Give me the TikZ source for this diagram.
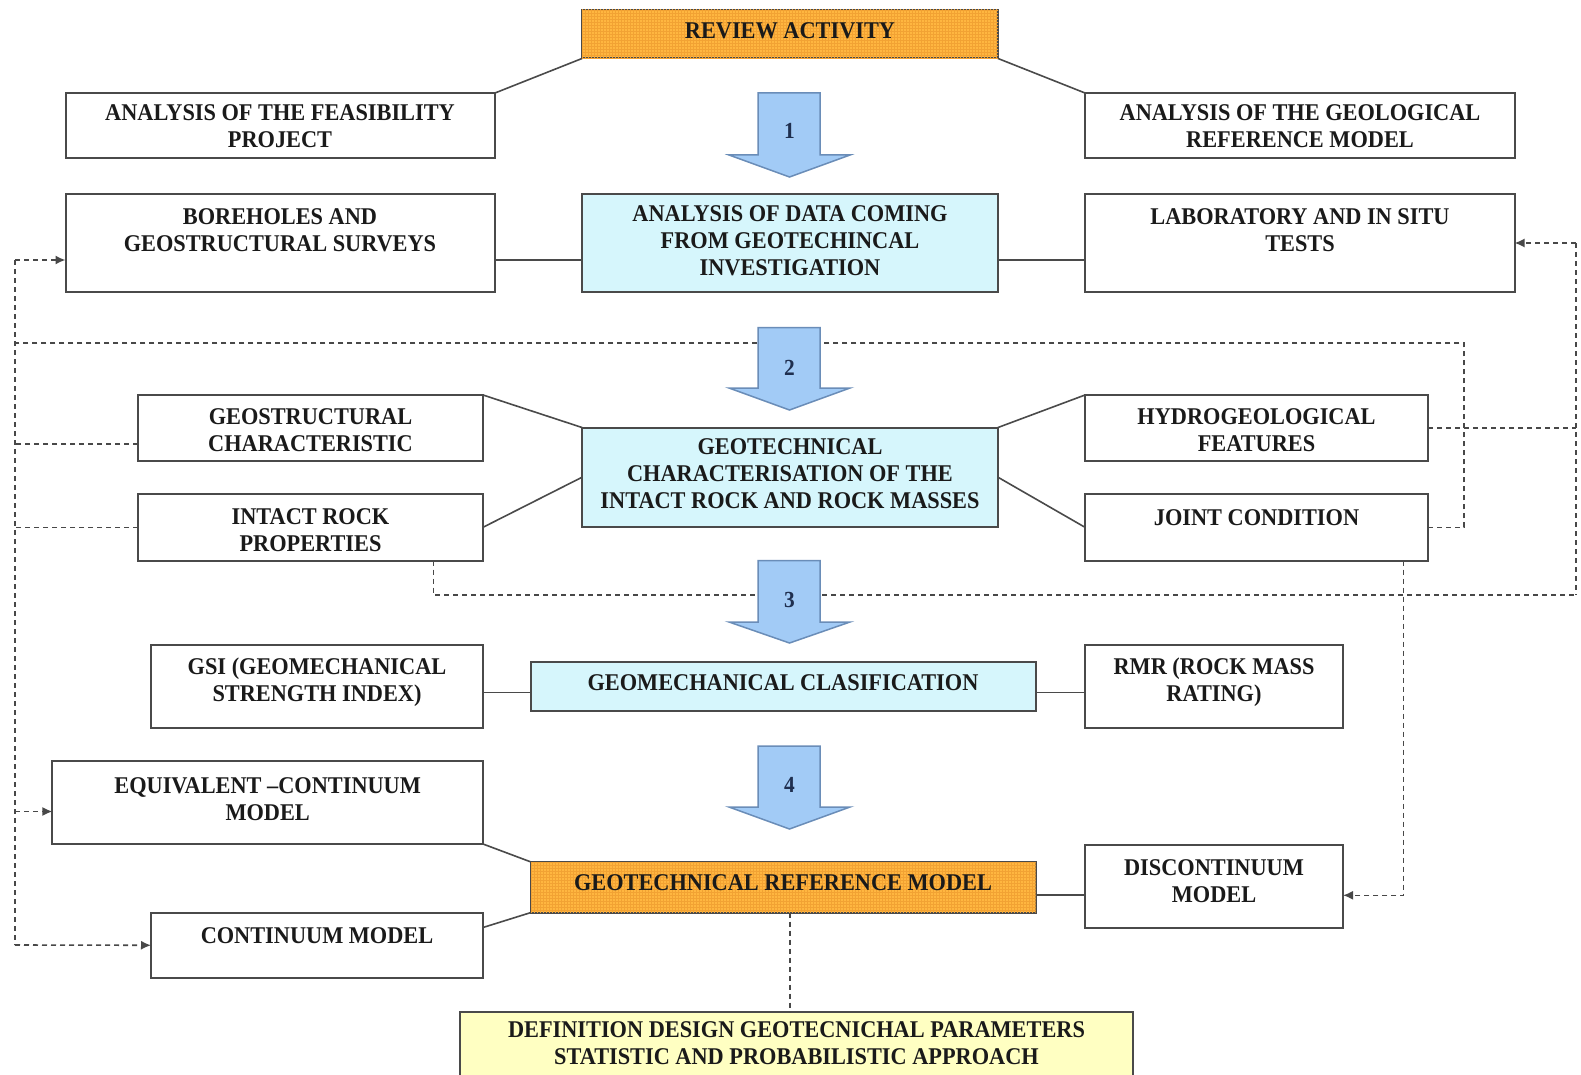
\documentclass[tikz,border=0pt]{standalone}
\usepackage{fontspec}
\setmainfont{Liberation Serif}[FakeStretch=0.93]
\usetikzlibrary{patterns,arrows.meta}
\definecolor{boxline}{HTML}{4A4A4A}
\definecolor{orangefill}{HTML}{FFB640}
\definecolor{orangegrid}{HTML}{F2A233}
\definecolor{cyanfill}{HTML}{D6F6FC}
\definecolor{yellowfill}{HTML}{FFFFC2}
\definecolor{arrowfill}{HTML}{A2CBF6}
\definecolor{arrowline}{HTML}{6A8DB8}
\definecolor{txtc}{HTML}{1A1A1A}
\definecolor{numcol}{HTML}{1F2F4F}
\definecolor{dashc}{HTML}{484848}
\newcommand\mybox[6]{%
  \node[box,#2,minimum width={(#5-#3)*1pt},minimum height={(#6-#4)*1pt}] (#1) at ({(#3+#5)/2},{(#4+#6)/2}) {};}
\newcommand\bigarrow[5]{% name, top, base, tip, label y
  \filldraw[bigarr] (758,#2) -- (820,#2) -- (820,#3) -- (850,#3) -- (789.5,#4) -- (729,#3) -- (758,#3) -- cycle;
  \node[numtxt] (#1) at (789.5,#5) {#1};}
\begin{document}
\begin{tikzpicture}[x=1pt,y=-1pt,
  box/.style={draw=boxline,line width=2pt,fill=white,inner sep=0pt,outer sep=0pt},
  orangebox/.style={fill=orangefill,postaction={pattern=grid,pattern color=orangegrid}},
  cyanbox/.style={fill=cyanfill},
  yellowbox/.style={fill=yellowfill},
  txt/.style={font=\fontsize{24}{27}\selectfont\bfseries,text=txtc,align=center,inner sep=0pt},
  numtxt/.style={font=\fontsize{23}{24}\selectfont\bfseries,text=numcol,inner sep=0pt},
  conn/.style={draw=boxline,line width=1.6pt},
  dline/.style={draw=dashc,line width=1.6pt,dash pattern=on 5pt off 4pt},
  arr/.style={-{Latex[length=10pt,width=9pt]}},
  bigarr/.style={fill=arrowfill,draw=arrowline,line width=1.5pt,line join=miter}
]
\clip (0,0) rectangle (1581,1075);
\fill[white] (0,0) rectangle (1581,1075);

% boxes
\mybox{review}{orangebox}{582}{10}{998}{58.5}
\mybox{feas}{}{65.5}{93}{495}{158}
\mybox{geol}{}{1085}{93}{1514.5}{158}
\mybox{bore}{}{65.5}{193.6}{495}{292.4}
\mybox{data}{cyanbox}{582}{193.6}{998}{292.4}
\mybox{lab}{}{1085}{193.6}{1514.5}{292.4}
\mybox{geos}{}{138}{395}{483}{461}
\mybox{intact}{}{138}{494}{483}{560.6}
\mybox{gc}{cyanbox}{582}{427.5}{998}{527}
\mybox{hydro}{}{1085}{395}{1428}{461}
\mybox{joint}{}{1085}{494}{1428}{560.6}
\mybox{gsi}{}{151}{645}{483}{728}
\mybox{gmc}{cyanbox}{531}{662}{1035.5}{711}
\mybox{rmr}{}{1085}{645}{1343}{728}
\mybox{equiv}{}{52.4}{761}{483}{844}
\mybox{grm}{orangebox}{531}{862}{1035.5}{912.5}
\mybox{disc}{}{1085}{845}{1343}{927.6}
\mybox{cont}{}{151}{912.5}{483}{978}
\mybox{defn}{yellowbox}{460}{1012}{1133}{1095}

% coordinates for dashed feedback lines
\coordinate (lTop) at (15,260);
\coordinate (lBot) at (15,945);
\coordinate (topR) at (1464,343);
\coordinate (topL) at (15,343);
\coordinate (rTop) at (1576,243);
\coordinate (rBot) at (1576,595);

% dashed connectors
\draw[dline,arr] (lTop) -- ([yshift=-17pt]bore.west);
\draw[dline] (lTop) -- (lBot);
\draw[dline,arr] (lBot) -- (cont.west);
\draw[dline,arr] (equiv.west -| lTop) ++(0,9) -- ([yshift=-9pt]equiv.west);
\draw[dline] ([yshift=-16pt]geos.west) -- ([yshift=-16pt]geos.west -| lTop);
\draw[dline] (intact.west) -- (intact.west -| lTop);
\draw[dline] (joint.east) -| (topR) -- (topL);
\draw[dline,arr] (rTop) -- (lab.east);
\draw[dline] (rTop) -- (rBot);
\draw[dline] ([xshift=-49.4pt]intact.south east) |- (rBot);
\draw[dline] (hydro.east) -- (hydro.east -| rBot);
\draw[dline,arr] ([xshift=-24.4pt]joint.south east) |- ([yshift=-9pt]disc.east);
\draw[dline] ([xshift=6.5pt]grm.south) -- ([xshift=6.5pt]grm.south |- defn.north);

% solid connectors
\draw[conn] (review.south west) -- (feas.north east);
\draw[conn] (review.south east) -- (geol.north west);
\draw[conn] ([yshift=-17pt]bore.east) -- ([yshift=-17pt]data.west);
\draw[conn] ([yshift=-17pt]data.east) -- ([yshift=-17pt]lab.west);
\draw[conn] (geos.north east) -- (gc.north west);
\draw[conn] (intact.east) -- (gc.west);
\draw[conn] (gc.north east) -- (hydro.north west);
\draw[conn] (gc.east) -- (joint.west);
\draw[conn] ([yshift=-6pt]gsi.east) -- ([yshift=-6pt]gmc.west);
\draw[conn] ([yshift=-6pt]gmc.east) -- ([yshift=-6pt]rmr.west);
\draw[conn] (equiv.south east) -- (grm.north west);
\draw[conn] ([yshift=-15pt]cont.north east) -- (grm.south west);
\draw[conn] ([yshift=-8pt]grm.east) -- ([yshift=-8pt]grm.east -| disc.west);

% big step arrows
\bigarrow{1}{93}{155}{177}{131}
\bigarrow{2}{327.7}{388}{410}{368}
\bigarrow{3}{560.6}{622}{643}{600}
\bigarrow{4}{746}{807}{829}{784.5}

% texts
\node[txt] (t-review) at (790,31) {REVIEW ACTIVITY};
\node[txt] (t-feas) at (280,126.5) {ANALYSIS OF THE FEASIBILITY\\PROJECT};
\node[txt] (t-geol) at (1300,126.5) {ANALYSIS OF THE GEOLOGICAL\\REFERENCE MODEL};
\node[txt] (t-bore) at (280,230.5) {BOREHOLES AND\\GEOSTRUCTURAL SURVEYS};
\node[txt] (t-data) at (790,241) {ANALYSIS OF DATA COMING\\FROM GEOTECHINCAL\\INVESTIGATION};
\node[txt] (t-lab) at (1300,230.5) {LABORATORY AND IN SITU\\TESTS};
\node[txt] (t-geos) at (310.5,430.5) {GEOSTRUCTURAL\\CHARACTERISTIC};
\node[txt] (t-gc) at (790,474) {GEOTECHNICAL\\CHARACTERISATION OF THE\\INTACT ROCK AND ROCK MASSES};
\node[txt] (t-hydro) at (1256.5,430.5) {HYDROGEOLOGICAL\\FEATURES};
\node[txt] (t-intact) at (310.5,530) {INTACT ROCK\\PROPERTIES};
\node[txt] (t-joint) at (1256.5,518) {JOINT CONDITION};
\node[txt] (t-gsi) at (317,682) {GSI (GEOMECHANICAL\\STRENGTH INDEX)};
\node[txt] (t-gmc) at (783,683) {GEOMECHANICAL CLASIFICATION};
\node[txt] (t-rmr) at (1214,682) {RMR (ROCK MASS\\RATING)};
\node[txt] (t-equiv) at (267.7,799) {EQUIVALENT --CONTINUUM\\MODEL};
\node[txt] (t-grm) at (783,883) {GEOTECHNICAL REFERENCE MODEL};
\node[txt] (t-disc) at (1214,881) {DISCONTINUUM\\MODEL};
\node[txt] (t-cont) at (317,936) {CONTINUUM MODEL};
\node[txt] (t-defn) at (796.5,1043) {DEFINITION DESIGN GEOTECNICHAL PARAMETERS\\STATISTIC AND PROBABILISTIC APPROACH};
\end{tikzpicture}
\end{document}
